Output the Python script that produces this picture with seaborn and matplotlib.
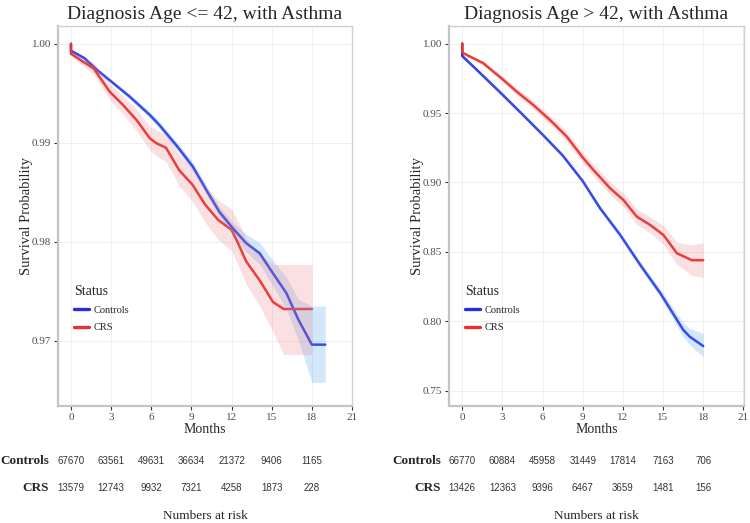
import pandas as pd
import matplotlib.pyplot as plt
import matplotlib.transforms as mtransforms
import seaborn as sns

# Survival curves (months, survival, lower CI, upper CI)
# Diagnosis age <= 42
left_ctrl_t = [0, 0, 1, 2, 3, 4.4, 5.9, 6.6, 7.9, 9.1, 10.3, 11.1, 12.1, 13.1, 14.1, 15.1, 16.1, 17.0, 18.0, 19.0]
left_ctrl_s = [1.0, 0.9993, 0.99855, 0.9973, 0.9962, 0.99465, 0.9928, 0.9918, 0.9897, 0.9876, 0.9848, 0.9830,
               0.98135, 0.97985, 0.97883, 0.9768, 0.9748, 0.9721, 0.9696, 0.9696]
left_ctrl_lo = [1.0, 0.9992, 0.99845, 0.99715, 0.9960, 0.9944, 0.9925, 0.99145, 0.9893, 0.98715, 0.9843, 0.98245,
                0.98075, 0.97895, 0.97773, 0.9755, 0.9732, 0.9700, 0.9658, 0.9658]
left_ctrl_hi = [1.0, 0.9994, 0.99865, 0.99745, 0.9964, 0.9949, 0.9931, 0.99215, 0.9901, 0.98805, 0.9853, 0.98355,
                0.98195, 0.98075, 0.97993, 0.9781, 0.9764, 0.9742, 0.9735, 0.9735]

left_crs_t = [0, 0, 0.9, 1.7, 2.9, 3.9, 4.9, 5.9, 6.4, 7.1, 8.1, 9.1, 10.0, 11.0, 12.0, 12.5, 13.1, 14.1, 15.1, 15.9, 18.0]
left_crs_s = [1.0, 0.9990, 0.9982, 0.9975, 0.99515, 0.9938, 0.9923, 0.99044, 0.98994, 0.9895, 0.9872, 0.98573,
              0.9838, 0.9822, 0.9812, 0.9798, 0.9780, 0.9761, 0.9739, 0.9732, 0.9732]
left_crs_lo = [1.0, 0.9988, 0.9978, 0.9969, 0.99435, 0.9929, 0.9912, 0.98924, 0.98864, 0.9881, 0.9856, 0.98403,
               0.9820, 0.9802, 0.9791, 0.9776, 0.9757, 0.9735, 0.9709, 0.9686, 0.9686]
left_crs_hi = [1.0, 0.9992, 0.9986, 0.9981, 0.99595, 0.9947, 0.9934, 0.99164, 0.99124, 0.9909, 0.9888, 0.98743,
               0.9856, 0.9842, 0.9833, 0.9820, 0.9803, 0.9787, 0.9777, 0.9777, 0.9777]

# Diagnosis age > 42
right_ctrl_t = [0, 0, 1.5, 3.0, 4.5, 6.0, 7.5, 9.0, 10.3, 11.8, 13.3, 14.8, 16.5, 17.0, 18.0]
right_ctrl_s = [1.0, 0.9911, 0.9773, 0.9633, 0.9490, 0.9345, 0.9195, 0.9010, 0.8814, 0.8622, 0.8406, 0.8202,
                0.7940, 0.7889, 0.7822]
right_ctrl_lo = [1.0, 0.9906, 0.9765, 0.9623, 0.9479, 0.9333, 0.9181, 0.8995, 0.8797, 0.8603, 0.8383, 0.8172,
                 0.7890, 0.7829, 0.7745]
right_ctrl_hi = [1.0, 0.9916, 0.9781, 0.9643, 0.9501, 0.9357, 0.9209, 0.9025, 0.8831, 0.8641, 0.8429, 0.8232,
                 0.7990, 0.7949, 0.7914]

right_crs_t = [0, 0, 1.57, 3.07, 4.07, 5.31, 6.56, 7.81, 9.05, 9.8, 11.05, 12.04, 13.04, 14.04, 15.03, 16.04, 17.16, 18.0]
right_crs_s = [1.0, 0.9935, 0.9859, 0.9739, 0.9654, 0.9558, 0.9450, 0.9330, 0.9174, 0.9090, 0.8958, 0.8874,
               0.8754, 0.8694, 0.8622, 0.8490, 0.8440, 0.8440]
right_crs_lo = [1.0, 0.9930, 0.9844, 0.9719, 0.9629, 0.9528, 0.9417, 0.9293, 0.9134, 0.9047, 0.8911, 0.8824,
                0.8699, 0.8634, 0.8554, 0.8410, 0.8330, 0.8317]
right_crs_hi = [1.0, 0.9940, 0.9874, 0.9759, 0.9679, 0.9588, 0.9483, 0.9367, 0.9214, 0.9133, 0.9005, 0.8924,
                0.8809, 0.8754, 0.8690, 0.8570, 0.8550, 0.8566]

# Numbers at risk
risk_months = [0, 3, 6, 9, 12, 15, 18]
left_risk_ctrl = ['67670', '63561', '49631', '36634', '21372', '9406', '1165']
left_risk_crs = ['13579', '12743', '9932', '7321', '4258', '1873', '228']
right_risk_ctrl = ['66770', '60884', '45958', '31449', '17814', '7163', '706']
right_risk_crs = ['13426', '12363', '9396', '6467', '3659', '1481', '156']

status_order = ['Controls', 'CRS']
line_colors = {'Controls': '#2B2BE3', 'CRS': '#E8302F'}
band_colors = {'Controls': '#5AAAF0', 'CRS': '#F07078'}
band_alpha = {'Controls': 0.27, 'CRS': 0.21}

sns.set_style('white')
plt.rcParams['font.family'] = ['Liberation Serif', 'DejaVu Serif']

fig = plt.figure(figsize=(7.5, 5.23), dpi=100)
ax_l = fig.add_axes([58 / 750, 117 / 523, 294 / 750, 380 / 523])
ax_r = fig.add_axes([449 / 750, 117 / 523, 295 / 750, 380 / 523])

panels = [
    (ax_l, 'Diagnosis Age <= 42, with Asthma',
     (left_ctrl_t, left_ctrl_s, left_ctrl_lo, left_ctrl_hi),
     (left_crs_t, left_crs_s, left_crs_lo, left_crs_hi),
     (-0.97, 21), (0.9634, 1.0018), [0.97, 0.98, 0.99, 1.00],
     left_risk_ctrl, left_risk_crs, 49 / 750),
    (ax_r, 'Diagnosis Age > 42, with Asthma',
     (right_ctrl_t, right_ctrl_s, right_ctrl_lo, right_ctrl_hi),
     (right_crs_t, right_crs_s, right_crs_lo, right_crs_hi),
     (-0.99, 21.05), (0.739, 1.0127), [0.75, 0.80, 0.85, 0.90, 0.95, 1.00],
     right_risk_ctrl, right_risk_crs, 441 / 750),
]

for ax, title, ctrl, crs, xlim, ylim, yticks, risk_ctrl, risk_crs, row_x in panels:
    df = pd.concat([
        pd.DataFrame({'Months': ctrl[0], 'Survival': ctrl[1], 'Status': 'Controls'}),
        pd.DataFrame({'Months': crs[0], 'Survival': crs[1], 'Status': 'CRS'}),
    ], ignore_index=True)

    ax.grid(True, color='#EFEFEF', linewidth=0.7)
    ax.set_axisbelow(True)

    sns.lineplot(data=df, x='Months', y='Survival', hue='Status', hue_order=status_order,
                 palette=line_colors, estimator=None, sort=False, linewidth=1.8, ax=ax)

    # confidence bands drawn over the lines, as in the original
    for name, series in zip(status_order, [ctrl, crs]):
        ax.fill_between(series[0], series[2], series[3], color=band_colors[name],
                        alpha=band_alpha[name], linewidth=0, zorder=3)

    ax.set_xlim(*xlim)
    ax.set_ylim(*ylim)
    ax.set_xticks(range(0, 22, 3))
    ax.set_yticks(yticks)
    ax.set_yticklabels([f'{v:.2f}' for v in yticks])
    ax.tick_params(axis='both', labelsize=8, labelcolor='#4D4D4D', length=3, width=0.8,
                   color='#333333', direction='out', left=True, bottom=True, pad=2)
    for side in ['top', 'right']:
        ax.spines[side].set_color('#D0D0D0')
        ax.spines[side].set_linewidth(1.0)
    for side in ['left', 'bottom']:
        ax.spines[side].set_color('#C4C4C4')
        ax.spines[side].set_linewidth(1.6)

    ax.set_xlabel('Months', fontsize=10)
    ax.set_ylabel('Survival Probability', fontsize=10.5)
    ax.xaxis.set_label_coords(0.5, -0.045)
    ax.yaxis.set_label_coords(-0.085, 0.5)

    ax.set_title(title, fontsize=14, pad=5)

    leg_x = (ax.get_position().x0 + 16 / 750)
    sns.move_legend(ax, loc='upper left', bbox_to_anchor=(leg_x, 0.455),
                    bbox_transform=fig.transFigure, frameon=False, title='Status',
                    fontsize=7.5, title_fontsize=10, handlelength=1.45, handletextpad=0.45,
                    labelspacing=0.75, borderpad=0, borderaxespad=0, alignment='left')
    for line in ax.get_legend().get_lines():
        line.set_linewidth(2.4)

    # numbers at risk table
    trans = mtransforms.blended_transform_factory(ax.transData, fig.transFigure)
    for m, n1, n2 in zip(risk_months, risk_ctrl, risk_crs):
        ax.text(m, 1 - 461 / 523, n1, transform=trans, ha='center', va='center',
                fontsize=7, color='#333333', family='Liberation Sans')
        ax.text(m, 1 - 488 / 523, n2, transform=trans, ha='center', va='center',
                fontsize=7, color='#333333', family='Liberation Sans')
    fig.text(row_x, 1 - 461 / 523, 'Controls', ha='right', va='center', fontsize=9.5, fontweight='bold')
    fig.text(row_x, 1 - 488 / 523, 'CRS', ha='right', va='center', fontsize=9.5, fontweight='bold')
    ax.text(0.5, 1 - 516 / 523, 'Numbers at risk', transform=mtransforms.blended_transform_factory(
        ax.transAxes, fig.transFigure), ha='center', va='center', fontsize=9.5)

plt.savefig('out.png', dpi=100)
